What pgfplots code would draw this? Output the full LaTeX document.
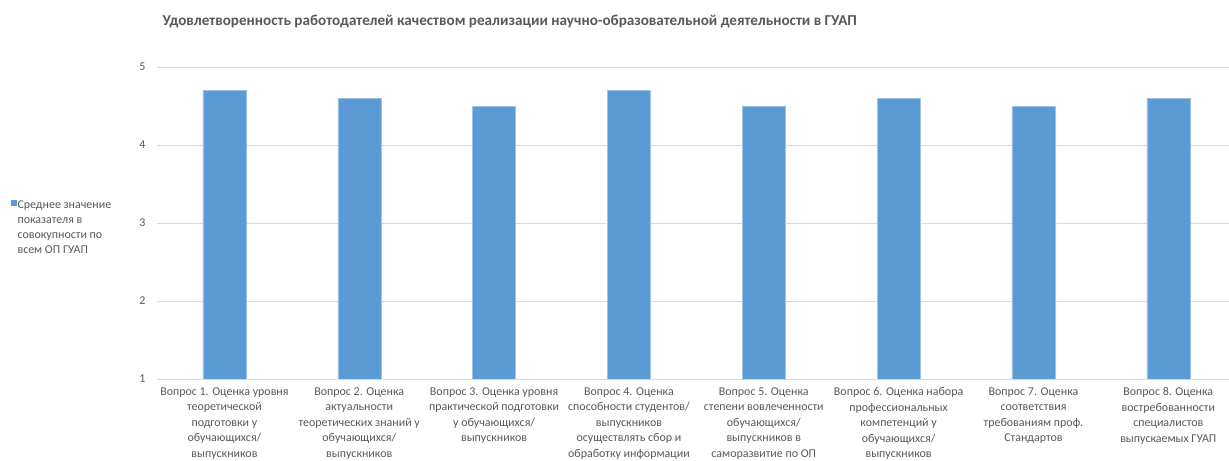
\documentclass[border=0pt]{standalone}
\usepackage{fontspec}
\setmainfont{Carlito}
\usepackage{pgfplots}
\pgfplotsset{compat=1.18}

\definecolor{barblue}{HTML}{5B9BD5}
\definecolor{gridgrey}{HTML}{D9D9D9}
\definecolor{txtgrey}{HTML}{595959}

\begin{document}
\begin{tikzpicture}
\useasboundingbox (0,0) rectangle (1229bp,461bp);
\node[anchor=base west, text=txtgrey, inner sep=0pt,
      font=\fontsize{15.2}{18}\selectfont\bfseries]
  at (162.5bp,435.5bp)
  {Удовлетворенность работодателей качеством реализации научно-образовательной деятельности в ГУАП};
\begin{axis}[
    at={(157bp,82bp)}, anchor=south west,
    scale only axis,
    width=1072bp, height=312bp,
    ybar, bar width=43bp,
    xmin=-0.5, xmax=7.45,
    ymin=1, ymax=5,
    ytick={1,2,3,4,5},
    xtick={0,...,7},
    xticklabels={
      {Вопрос 1. Оценка уровня\\теоретической\\подготовки у\\обучающихся/\\выпускников},
      {Вопрос 2. Оценка\\актуальности\\теоретических знаний у\\обучающихся/\\выпускников},
      {Вопрос 3. Оценка уровня\\практической подготовки\\у обучающихся/\\выпускников},
      {Вопрос 4. Оценка\\способности студентов/\\выпускников\\осуществлять сбор и\\обработку информации},
      {Вопрос 5. Оценка\\степени вовлеченности\\обучающихся/\\выпускников в\\саморазвитие по ОП},
      {Вопрос 6. Оценка набора\\профессиональных\\компетенций у\\обучающихся/\\выпускников},
      {Вопрос 7. Оценка\\соответствия\\требованиям проф.\\Стандартов},
      {Вопрос 8. Оценка\\востребованности\\специалистов\\выпускаемых ГУАП}},
    major tick length=0pt,
    axis line style={draw=none},
    ymajorgrids,
    grid style={gridgrey, line width=0.8pt},
    /pgf/number format/assume math mode=true,
    tick label style={text=txtgrey, font=\fontsize{12}{15.6}\selectfont},
    xticklabel style={align=center, yshift=-5bp},
    yticklabel style={xshift=-8bp},
    legend style={at={(-0.1395,0.585)}, anchor=north west, draw=none, fill=none,
      font=\fontsize{12}{15.2}\selectfont, text=txtgrey,
      nodes={inner xsep=1.5bp}},
    legend image code/.code={\fill[barblue] (0bp,0.3bp) rectangle (5bp,5.3bp);},
]
\addplot[fill=barblue, draw=barblue!60!white, line width=0.4pt] coordinates {
  (0,4.7) (1,4.6) (2,4.5) (3,4.7) (4,4.5) (5,4.6) (6,4.5) (7,4.6)};
\addlegendentry{\parbox[t]{110bp}{\raggedright Среднее значение\\показателя в\\совокупности по\\всем ОП ГУАП}}
\end{axis}
\end{tikzpicture}
\end{document}
